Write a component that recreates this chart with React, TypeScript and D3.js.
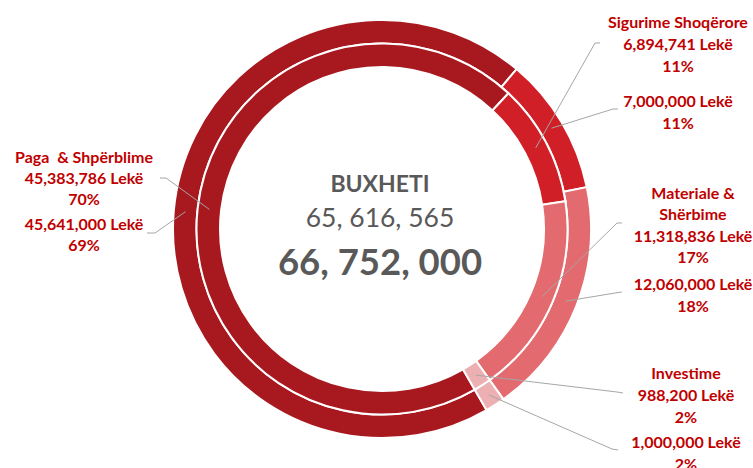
import React from "react";
import * as d3 from "d3";

const categories = ["Paga  & Shpërblime", "Sigurime Shoqërore", "Materiale & Shërbime", "Investime"];
const categoryLines = [["Paga  & Shpërblime"], ["Sigurime Shoqërore"], ["Materiale &", "Shërbime"], ["Investime"]];
const innerValues = [45383786, 6894741, 11318836, 988200];
const outerValues = [45641000, 7000000, 12060000, 1000000];
const innerPct = ["70%", "11%", "17%", "2%"];
const outerPct = ["69%", "11%", "18%", "2%"];
const centerTitle = "BUXHETI";
const centerInner = "65, 616, 565";
const centerOuter = "66, 752, 000";
const colors = ["#A8181F", "#D01F27", "#E36B6F", "#EDB0B2"];

const W = 753, H = 468;
const cx = 382, cy = 229;
const R = 209, rMid = 185.5, r0 = 162;
const startAngle = (150 * Math.PI) / 180;

// label layout: center x, first-line y, line spacing, gap before outer block, inner/outer leader anchor
const layout = [
  { x: 84, y: 157, dy: 21, gap: 25, a1: [[160, 178], [166, 178]], a2: [[147, 233], [155, 233]] },
  { x: 678, y: 22, dy: 22, gap: 35, a1: [[600, 43], [595, 43]], a2: [[618, 109], [613, 109]] },
  { x: 693, y: 193, dy: 21.5, gap: 27, a1: [[622, 223], [617, 223]], a2: [[622, 292], [615, 293]] },
  { x: 686, y: 373, dy: 22, gap: 25, a1: [[623, 393], [617, 392]], a2: [[618, 450], [612, 449]] },
];

const fmt = d3.format(",");
const FONT = "Lato, 'Open Sans', sans-serif";
const RED = "#C00000";

export default function App() {
  const pie = d3.pie<number>().sort(null).value((d) => d).startAngle(startAngle).endAngle(startAngle + 2 * Math.PI);
  const innerArcs = pie(innerValues);
  const outerArcs = pie(outerValues);
  const innerArc = d3.arc<d3.PieArcDatum<number>>().innerRadius(r0).outerRadius(rMid);
  const outerArc = d3.arc<d3.PieArcDatum<number>>().innerRadius(rMid).outerRadius(R);
  const line = d3.line();

  return (
    <div style={{ position: "fixed", left: 0, top: 0, width: W, height: H, background: "#fff" }}>
      <svg width={W} height={H} style={{ display: "block" }}>
        <g transform={`translate(${cx},${cy})`}>
          {outerArcs.map((a, i) => (
            <path key={"o" + i} d={outerArc(a) || ""} fill={colors[i]} stroke="#fff" strokeWidth={2} />
          ))}
          {innerArcs.map((a, i) => (
            <path key={"i" + i} d={innerArc(a) || ""} fill={colors[i]} stroke="#fff" strokeWidth={2} />
          ))}
        </g>
        {categories.map((c, i) => {
          const ci = innerArc.centroid(innerArcs[i]);
          const co = outerArc.centroid(outerArcs[i]);
          const L = layout[i];
          const p1 = [...L.a1, [ci[0] + cx, ci[1] + cy]] as [number, number][];
          const p2 = [...L.a2, [co[0] + cx, co[1] + cy]] as [number, number][];
          return (
            <g key={"l" + i}>
              <path d={line(p1) || ""} fill="none" stroke="#A6A6A6" strokeWidth={1} />
              <path d={line(p2) || ""} fill="none" stroke="#A6A6A6" strokeWidth={1} />
            </g>
          );
        })}
        {categories.map((c, i) => {
          const L = layout[i];
          const lines = [...categoryLines[i], fmt(innerValues[i]) + " Lekë", innerPct[i]];
          const n = lines.length;
          const outerY = L.y + (n - 1) * L.dy + L.gap;
          return (
            <g key={"t" + i} fontFamily={FONT} fontWeight={700} fontSize={16} fill={RED} textAnchor="middle">
              {lines.map((t, j) => (
                <text key={j} x={L.x} y={L.y + j * L.dy} dy="0.35em" style={{ whiteSpace: "pre" }}>{t}</text>
              ))}
              <text x={L.x} y={outerY} dy="0.35em">{fmt(outerValues[i]) + " Lekë"}</text>
              <text x={L.x} y={outerY + L.dy} dy="0.35em">{outerPct[i]}</text>
            </g>
          );
        })}
        <g fontFamily={FONT} fill="#595959" textAnchor="middle">
          <text x={380} y={184} dy="0.35em" fontWeight={700} fontSize={23}>{centerTitle}</text>
          <text x={380} y={218} dy="0.35em" fontSize={26.5}>{centerInner}</text>
          <text x={380} y={262} dy="0.35em" fontWeight={700} fontSize={36.5}>{centerOuter}</text>
        </g>
      </svg>
    </div>
  );
}
